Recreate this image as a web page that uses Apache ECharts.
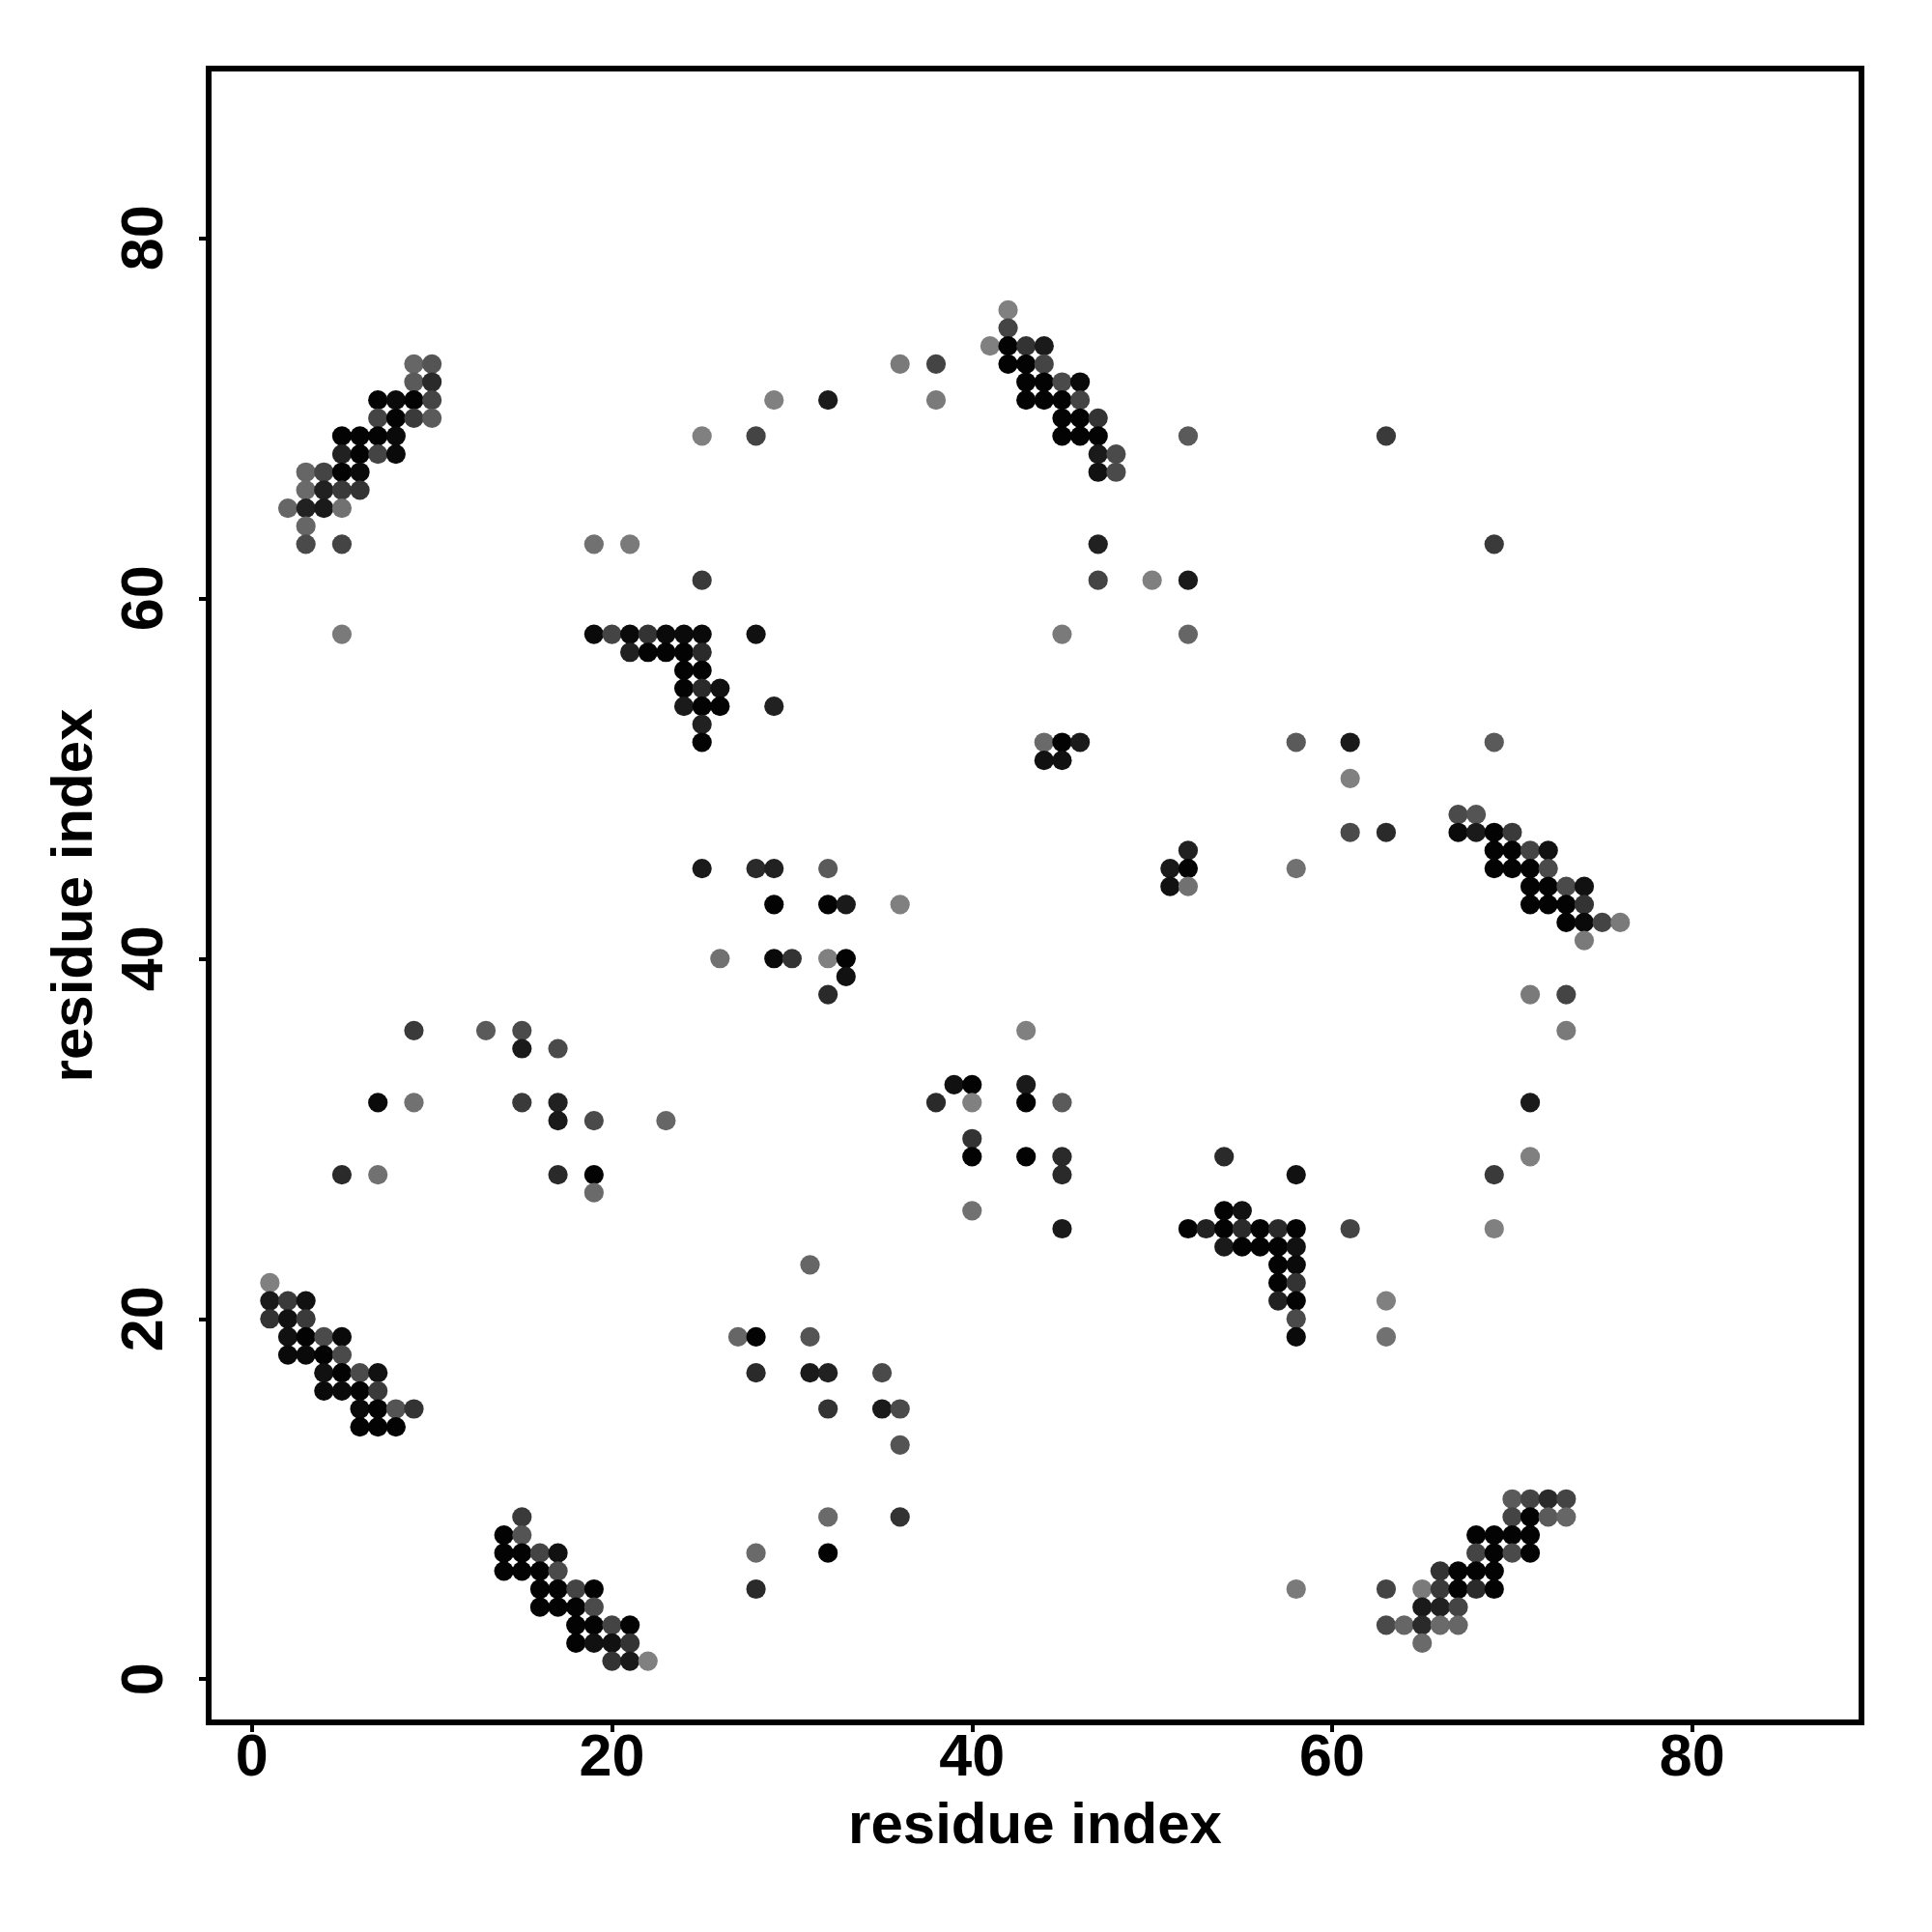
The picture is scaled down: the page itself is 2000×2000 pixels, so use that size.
<!DOCTYPE html>
<html>
<head>
<meta charset="utf-8">
<script src="https://cdn.jsdelivr.net/npm/echarts@6/dist/echarts.min.js"></script>
<style>html,body{margin:0;padding:0;background:#fff}#c{width:2000px;height:2000px}</style>
</head>
<body>
<div id="c"></div>
<script>
// each contact: [residue i, residue j, contact score 0..1]
const tickValues = [0, 20, 40, 60, 80];
const axisTitle = 'residue index';

const clusterA = [[9,73,0.2],[10,73,0.34],[9,72,0.3],[10,72,0.67],
  [7,71,0.98],[8,71,0.92],[9,71,0.98],[10,71,0.47],
  [7,70,0.47],[8,70,0.98],[9,70,0.55],[10,70,0.3],
  [5,69,0.98],[6,69,0.98],[7,69,0.98],[8,69,0.92],
  [5,68,0.74],[6,68,0.98],[7,68,0.47],[8,68,0.92],
  [3,67,0.2],[4,67,0.47],[5,67,0.98],[6,67,0.92],
  [3,66,0.17],[4,66,0.74],[5,66,0.55],[6,66,0.6],
  [2,65,0.2],[3,65,0.74],[4,65,0.8],[5,65,0.12],
  [3,64,0.2],[3,63,0.42],[5,63,0.47],[5,58,0.05]];

const clusterB = [[19,63,0.12],[21,63,0.05],[25,61,0.55],
  [19,58,0.92],[20,58,0.47],[21,58,0.92],[22,58,0.6],[23,58,0.92],[24,58,0.92],[25,58,0.92],[28,58,0.87],
  [21,57,0.74],[22,57,0.98],[23,57,0.98],[24,57,0.98],[25,57,0.67],
  [24,56,0.98],[25,56,0.98],
  [24,55,0.98],[25,55,0.67],[26,55,0.87],
  [24,54,0.8],[25,54,0.98],[26,54,0.98],[29,54,0.74],
  [25,53,0.74],[25,52,0.98]];

const upperMid = [[25,69,0.0],[28,69,0.47],[29,71,0.0],[32,71,0.8],[36,73,0.05],[38,73,0.47],[38,71,0.05]];

const clusterC = [[42,76,0.0],[42,75,0.47],
  [41,74,0.0],[42,74,0.98],[43,74,0.6],[44,74,0.8],
  [42,73,0.98],[43,73,0.98],[44,73,0.47],
  [43,72,0.98],[44,72,0.98],[45,72,0.42],[46,72,0.92],
  [43,71,0.98],[44,71,0.98],[45,71,0.98],[46,71,0.47],
  [45,70,0.98],[46,70,0.98],[47,70,0.6],
  [45,69,0.98],[46,69,0.98],[47,69,0.98],
  [47,68,0.8],[48,68,0.42],[47,67,0.87],[48,67,0.42]];

const upperRight = [[52,69,0.3],[63,69,0.55],[47,63,0.74],[47,61,0.47],[50,61,0.0],[52,61,0.8],
  [45,58,0.05],[52,58,0.2],[69,63,0.55],
  [44,52,0.17],[45,52,0.98],[46,52,0.8],[44,51,0.87],[45,51,0.87],
  [58,52,0.3],[61,52,0.8],[69,52,0.3],[61,50,0.0],[61,47,0.42],[63,47,0.67],
  [52,46,0.74],[51,45,0.8],[52,45,0.98],[51,44,0.87],[52,44,0.12],[58,45,0.12]];

const clusterE = [[67,48,0.42],[68,48,0.34],
  [67,47,0.92],[68,47,0.8],[69,47,0.98],[70,47,0.55],
  [69,46,0.98],[70,46,0.98],[71,46,0.47],[72,46,0.87],
  [69,45,0.98],[70,45,0.98],[71,45,0.98],[72,45,0.42],
  [71,44,0.98],[72,44,0.98],[73,44,0.42],[74,44,0.87],
  [71,43,0.98],[72,43,0.98],[73,43,0.98],[74,43,0.6],
  [73,42,0.98],[74,42,0.92],[75,42,0.47],[76,42,0.05],[74,41,0.05],
  [71,38,0.05],[73,38,0.47],[73,36,0.05],[71,32,0.8],[71,29,0.0],[69,28,0.55],[69,25,0.0]];

const clusterF = [[25,45,0.8],[28,45,0.67],[29,45,0.74],[32,45,0.3],
  [29,43,0.98],[32,43,0.98],[33,43,0.8],[36,43,0.0],
  [26,40,0.12],[29,40,0.92],[30,40,0.6],[32,40,0.0],[33,40,0.98],
  [33,39,0.87],[32,38,0.67]];

const clusterG = [[9,36,0.55],[13,36,0.3],[15,36,0.42],[15,35,0.8],[17,35,0.42],
  [7,32,0.92],[9,32,0.12],[15,32,0.55],[17,32,0.74],
  [17,31,0.8],[19,31,0.42],[23,31,0.2],
  [5,28,0.67],[7,28,0.12],[17,28,0.67],[19,28,0.98],[19,27,0.17]];

const clusterH = [[43,36,0.0],[39,33,0.87],[40,33,0.98],[43,33,0.8],
  [38,32,0.67],[40,32,0.0],[43,32,0.98],[45,32,0.3],
  [40,30,0.6],[40,29,0.98],[43,29,0.98],[45,29,0.67],
  [45,28,0.67],[40,26,0.12],[45,25,0.8]];

const clusterI = [[54,29,0.67],[58,28,0.87],[54,26,0.98],[55,26,0.87],
  [52,25,0.98],[53,25,0.74],[54,25,0.98],[55,25,0.67],[56,25,0.98],[57,25,0.67],[58,25,0.98],[61,25,0.47],
  [54,24,0.8],[55,24,0.98],[56,24,0.98],[57,24,0.98],[58,24,0.87],
  [57,23,0.98],[58,23,0.92],[57,22,0.98],[58,22,0.6],
  [57,21,0.74],[58,21,0.98],[63,21,0.0],[58,20,0.42],[58,19,0.92],[63,19,0.12]];

const clusterJ = [[1,22,0.0],[1,21,0.8],[2,21,0.55],[3,21,0.87],
  [1,20,0.6],[2,20,0.87],[3,20,0.55],
  [2,19,0.87],[3,19,0.98],[4,19,0.42],[5,19,0.92],
  [2,18,0.92],[3,18,0.92],[4,18,0.98],[5,18,0.42],
  [4,17,0.87],[5,17,0.98],[6,17,0.42],[7,17,0.87],
  [4,16,0.92],[5,16,0.92],[6,16,0.98],[7,16,0.55],
  [6,15,0.92],[7,15,0.98],[8,15,0.34],[9,15,0.6],
  [6,14,0.98],[7,14,0.98],[8,14,0.98]];

const clusterK = [[15,9,0.55],[14,8,0.98],[15,8,0.34],
  [14,7,0.98],[15,7,0.98],[16,7,0.47],[17,7,0.87],
  [14,6,0.98],[15,6,0.98],[16,6,0.98],[17,6,0.42],
  [16,5,0.98],[17,5,0.98],[18,5,0.47],[19,5,0.98],
  [16,4,0.98],[17,4,0.98],[18,4,0.98],[19,4,0.42],
  [18,3,0.98],[19,3,0.98],[20,3,0.47],[21,3,0.98],
  [18,2,0.98],[19,2,0.87],[20,2,0.87],[21,2,0.6],
  [20,1,0.6],[21,1,0.8],[22,1,0.0]];

const clusterL = [[31,23,0.2],[27,19,0.2],[28,19,0.98],[31,19,0.34],
  [28,17,0.67],[31,17,0.8],[32,17,0.74],[35,17,0.42],
  [32,15,0.6],[35,15,0.8],[36,15,0.42],[36,13,0.34],
  [32,9,0.17],[36,9,0.6],[28,7,0.17],[32,7,0.98],[28,5,0.67]];

const clusterM = [[58,5,0.05],
  [70,10,0.3],[71,10,0.47],[72,10,0.67],[73,10,0.47],
  [70,9,0.47],[71,9,0.98],[72,9,0.3],[73,9,0.2],
  [68,8,0.98],[69,8,0.98],[70,8,0.98],[71,8,0.98],
  [68,7,0.47],[69,7,0.98],[70,7,0.42],[71,7,0.98],
  [66,6,0.6],[67,6,0.98],[68,6,0.98],[69,6,0.98],
  [63,5,0.47],[65,5,0.05],[66,5,0.55],[67,5,0.98],[68,5,0.67],[69,5,0.98],
  [65,4,0.8],[66,4,0.74],[67,4,0.47],
  [63,3,0.42],[64,3,0.2],[65,3,0.67],[66,3,0.17],[67,3,0.2],[65,2,0.17]];

const contacts = [].concat(clusterA, clusterB, upperMid, clusterC, upperRight, clusterE,
  clusterF, clusterG, clusterH, clusterI, clusterJ, clusterK, clusterL, clusterM);

const FONT = "'Liberation Sans', Arial, Helvetica, sans-serif";
const chart = echarts.init(document.getElementById('c'), null, {renderer: 'canvas'});
chart.setOption({
  animation: false,
  backgroundColor: '#ffffff',
  grid: {left: 216, right: 73, top: 71, bottom: 217, show: true, borderColor: '#000', borderWidth: 6, backgroundColor: 'transparent'},
  visualMap: {show: false, dimension: 2, min: 0, max: 1, inRange: {color: ['#808080', '#000000']}},
  xAxis: {
    type: 'value', min: -2.4, max: 89.4,
    name: axisTitle, nameLocation: 'middle', nameGap: 78,
    nameTextStyle: {fontFamily: FONT, fontWeight: 'bold', fontSize: 60, color: '#000'},
    axisLine: {show: false, onZero: false},
    axisTick: {show: true, inside: false, length: 10, lineStyle: {color: '#000', width: 4}, customValues: tickValues},
    axisLabel: {show: true, margin: 8, fontFamily: FONT, fontWeight: 'bold', fontSize: 61, color: '#000', customValues: tickValues},
    splitLine: {show: false}
  },
  yAxis: {
    type: 'value', min: -2.4, max: 89.4,
    name: axisTitle, nameLocation: 'middle', nameGap: 108, nameRotate: 90,
    nameTextStyle: {fontFamily: FONT, fontWeight: 'bold', fontSize: 60, color: '#000'},
    axisLine: {show: false, onZero: false},
    axisTick: {show: true, inside: false, length: 10, lineStyle: {color: '#000', width: 4}, customValues: tickValues},
    axisLabel: {show: true, rotate: 90, margin: 34, fontFamily: FONT, fontWeight: 'bold', fontSize: 61, color: '#000', customValues: tickValues},
    splitLine: {show: false}
  },
  series: [{
    type: 'scatter',
    data: contacts,
    symbol: 'circle',
    symbolSize: 20.2,
    itemStyle: {opacity: 1}
  }]
});
</script>
</body>
</html>
